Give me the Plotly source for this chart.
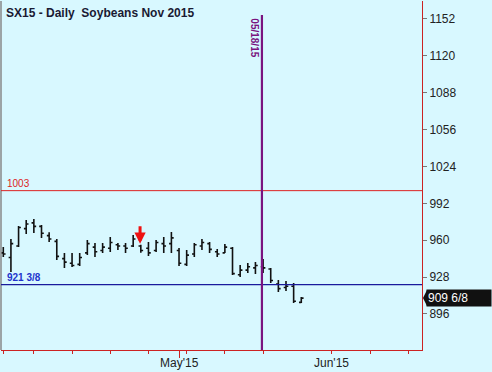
import plotly.graph_objects as go

# ---- data ----
dates = ["2015-03-30", "2015-03-31", "2015-04-01", "2015-04-02",
         "2015-04-06", "2015-04-07", "2015-04-08", "2015-04-09", "2015-04-10",
         "2015-04-13", "2015-04-14", "2015-04-15", "2015-04-16", "2015-04-17",
         "2015-04-20", "2015-04-21", "2015-04-22", "2015-04-23", "2015-04-24",
         "2015-04-27", "2015-04-28", "2015-04-29", "2015-04-30", "2015-05-01",
         "2015-05-04", "2015-05-05", "2015-05-06", "2015-05-07", "2015-05-08",
         "2015-05-11", "2015-05-12", "2015-05-13", "2015-05-14", "2015-05-15",
         "2015-05-18", "2015-05-19", "2015-05-20", "2015-05-21", "2015-05-22",
         "2015-05-26"]
opens  = [949, 945, 955, 970, 975, 972, 964, 959, 944, 940, 939, 949, 954, 951,
          953, 956, 955, 955, 955, 953, 951, 957, 957, 951, 939, 948, 955, 957,
          950, 949, 953, 930, 934, 936, 937, 935, 922, 919, 920, 906]
highs  = [954, 961, 972.3, 977.5, 978.4, 973.2, 967, 961, 948.9, 948.9, 948.9,
          960.2, 957.6, 957.6, 962.8, 957.6, 957.6, 964.5, 956, 958.4, 960.2,
          962.8, 967.1, 953.2, 951.5, 957.6, 961, 958.4, 952.4, 956.7, 954.1,
          938.5, 940.2, 941.1, 943.7, 935.9, 925.4, 924.6, 922.8, 910.7]
lows   = [945.5, 932.4, 954, 965.4, 966.2, 962, 958.4, 942.8, 935.9, 936.7,
          937.6, 947.2, 945.4, 948.9, 949.8, 951.5, 948.9, 954, 949, 946.3,
          949.8, 948.9, 948.9, 937.6, 937.6, 945.4, 951.5, 948.9, 945.4, 948.9,
          929.8, 928.1, 931.5, 930.7, 931.5, 922.8, 915, 915.9, 905.5, 905.5]
closes = [948, 957, 971, 974, 972, 966, 961, 946, 941, 938, 945, 957, 950, 954,
          958, 955, 953, 961, 951, 949, 958, 955, 962, 940, 947, 956, 958, 952,
          948, 954, 931, 934, 937, 938, 936, 925, 918, 920, 907, 909.75]

week_tick_idx = [0, 4, 9, 14, 19, 24, 29, 34, 43, 48, 53]
month_tick_idx = [23, 43]
month_tick_text = ["May'15", "Jun'15"]
y_ticks = [896, 928, 960, 992, 1024, 1056, 1088, 1120, 1152]

level_red = 1003
level_red_text = "1003"
level_blue = 921.375
level_blue_text = "921 3/8"
event_idx = 34
event_text = "05/18/15"
last_price = 909.75
last_price_text = "909 6/8"
arrow_idx = 18
arrow_price = 957

BG = "#D8F8FF"
FONT = "Arial, Liberation Sans, sans-serif"

x = list(range(len(dates)))

fig = go.Figure()
fig.add_trace(go.Ohlc(
    x=x, open=opens, high=highs, low=lows, close=closes,
    increasing=dict(line=dict(color="#111111", width=1.6)),
    decreasing=dict(line=dict(color="#111111", width=1.6)),
    tickwidth=0.3, hoverinfo="skip", showlegend=False,
))

X0, X1 = -0.3, 54.8
Y0, Y1 = 864.7, 1167.6

fig.update_layout(
    width=492, height=372,
    margin=dict(l=1, r=70, t=1, b=22, autoexpand=False),
    paper_bgcolor=BG, plot_bgcolor=BG,
    font=dict(family=FONT, size=12, color="#222222"),
    showlegend=False,
    xaxis=dict(
        range=[X0, X1], rangeslider=dict(visible=False),
        showgrid=False, zeroline=False, automargin=False,
        showline=True, linecolor="#CC2222", linewidth=1,
        tickmode="array", tickvals=month_tick_idx, ticktext=["", ""],
        ticks="outside", ticklen=7, tickcolor="#CC2222", tickwidth=1,
        minor=dict(tickmode="array", tickvals=week_tick_idx, ticks="outside",
                   ticklen=3, tickcolor="#CC2222", tickwidth=1, showgrid=False),
    ),
    yaxis=dict(
        range=[Y0, Y1], side="right",
        showgrid=False, zeroline=False, automargin=False,
        showline=True, linecolor="#CC2222", linewidth=1,
        tickmode="array", tickvals=y_ticks,
        ticks="outside", ticklen=4, tickcolor="#777777",
        tickfont=dict(family=FONT, size=12, color="#222222"),
    ),
)

# month labels
for xi, lbl in zip(month_tick_idx, month_tick_text):
    fig.add_annotation(x=xi, y=0, xref="x", yref="paper", text=lbl, showarrow=False,
                       xanchor="center", yanchor="top", yshift=-4,
                       font=dict(family=FONT, size=12, color="#222222"))

# left border
fig.add_shape(type="line", xref="paper", yref="paper", x0=0, x1=0, y0=0, y1=1,
              line=dict(color="#888888", width=1.5))
# horizontal levels
fig.add_shape(type="line", xref="x", yref="y", x0=X0, x1=X1,
              y0=level_red, y1=level_red, line=dict(color="#DD2222", width=1))
fig.add_shape(type="line", xref="x", yref="y", x0=X0, x1=X1,
              y0=level_blue, y1=level_blue, line=dict(color="#1A1A9C", width=1.2))
# event line
fig.add_shape(type="line", xref="x", yref="y", x0=event_idx - 0.15, x1=event_idx - 0.15,
              y0=Y0, y1=1155.5, line=dict(color="#7A1480", width=2.2))

fig.add_annotation(x=X0, y=level_red, xref="x", yref="y", text=level_red_text,
                   showarrow=False, xanchor="left", yanchor="bottom", xshift=4, yshift=0,
                   font=dict(family=FONT, size=10, color="#DD2222"))
fig.add_annotation(x=X0, y=level_blue, xref="x", yref="y", text="<b>" + level_blue_text + "</b>",
                   showarrow=False, xanchor="left", yanchor="bottom", xshift=4, yshift=0,
                   font=dict(family=FONT, size=10, color="#2233CC"))
fig.add_annotation(x=event_idx, y=1136, xref="x", yref="y", text="<b>" + event_text + "</b>",
                   showarrow=False, textangle=90, xshift=-8,
                   font=dict(family=FONT, size=10, color="#7A1480"))
# last price box with pointer
fig.add_annotation(x=1, y=last_price, xref="paper", yref="y", text=last_price_text,
                   showarrow=False, xanchor="left", xshift=4, bgcolor="#111111",
                   borderpad=1, width=62, align="left",
                   font=dict(family=FONT, size=12, color="#FFFFFF"))
fig.add_shape(type="path", xref="paper", yref="y", xsizemode="pixel", ysizemode="pixel",
              xanchor=1, yanchor=last_price, path="M 1,0 L 5,-8 L 5,8 Z",
              fillcolor="#111111", line=dict(width=0))
# red arrow
fig.add_annotation(x=arrow_idx - 0.1, y=arrow_price, xref="x", yref="y", text="",
                   showarrow=True, ax=0, ay=-19, arrowhead=2, arrowsize=0.75,
                   arrowwidth=3, arrowcolor="#EE1111", standoff=0)
# title
fig.add_annotation(x=0, y=1, xref="paper", yref="paper",
                   text="<b>SX15 - Daily  Soybeans Nov 2015</b>",
                   showarrow=False, xanchor="left", yanchor="top", xshift=3, yshift=-3,
                   font=dict(family=FONT, size=12, color="#1A1A33"))

fig.write_html("out.html", config={"displayModeBar": False},
               post_script="document.body.style.margin='0px';")
